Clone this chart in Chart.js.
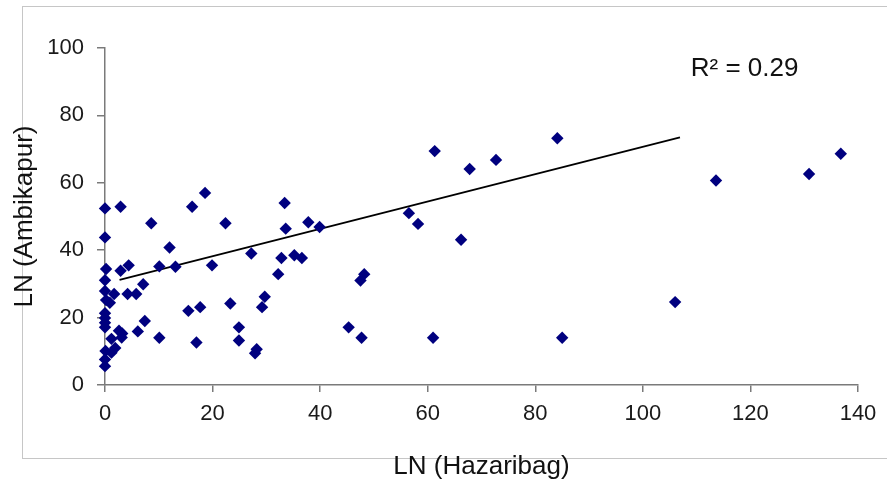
<!DOCTYPE html>
<html>
<head>
<meta charset="utf-8">
<script src="https://cdn.jsdelivr.net/npm/chart.js@4"></script>
<style>
  html, body { margin: 0; padding: 0; background: #fff; }
  #wrap { position: relative; width: 887px; height: 483px; }
  #frame { position: absolute; left: 22px; top: 6px; width: 900px; height: 451px; border: 1px solid #c6c6c6; }
  #chart { position: absolute; left: 0; top: 0; }
</style>
</head>
<body>
<div id="wrap">
  <div id="frame"></div>
  <canvas id="chart" width="887" height="483"></canvas>
</div>
<script>
// LN values (x = Hazaribag, y = Ambikapur)
const lnHazaribag = [
  0, 0, 0.2, 0, 0, 0.2, 0, 0, 0, 0, 0.1, 0, 0,
  0.9, 1.2, 1.9, 1.2, 1.7, 2.9, 2.9, 4.4, 2.6, 3.2, 3.1, 4.2, 5.8, 7.1, 7.4, 6.1,
  8.6, 10.1, 10.1, 12.0, 13.1, 15.5, 16.2, 17.0, 17.7, 18.6, 19.9, 22.4, 23.3,
  24.9, 24.9, 27.2, 27.9, 28.2, 29.2, 29.7, 32.2, 32.8, 33.4, 33.6, 35.2, 36.6,
  37.8, 39.9, 45.3, 47.5, 48.2, 47.7, 56.5, 58.2, 61.3, 61.0, 66.2, 67.8, 72.7,
  84.1, 85.0, 106.0, 113.6, 130.9, 136.8
];
const lnAmbikapur = [
  52.4, 43.8, 34.4, 31.1, 27.9, 25.2, 21.3, 19.9, 18.5, 17.1, 10.1, 7.6, 5.6,
  24.4, 13.7, 11.0, 9.6, 27.0, 52.9, 33.9, 35.5, 16.1, 15.3, 14.1, 27.0, 27.0, 29.9, 19.0, 15.9,
  48.0, 35.2, 14.0, 40.8, 35.1, 22.0, 52.9, 12.6, 23.1, 57.0, 35.5, 48.0, 24.2,
  17.1, 13.2, 39.0, 9.4, 10.6, 23.1, 26.2, 32.9, 37.7, 54.0, 46.4, 38.5, 37.7,
  48.3, 46.9, 17.1, 31.0, 32.9, 14.0, 51.0, 47.8, 69.4, 14.0, 43.1, 64.1, 66.8,
  73.2, 14.0, 24.6, 60.7, 62.6, 68.6
];

// linear trend line end points
const trendX = [2.7, 106.9];
const trendY = [31.2, 73.5];
const rSquared = '0.29';

const points = lnHazaribag.map((x, i) => ({ x: x, y: lnAmbikapur[i] }));
const trend = trendX.map((x, i) => ({ x: x, y: trendY[i] }));

const FONT = '"Liberation Sans", Arial, sans-serif';

// draws the R² note in data coordinates
const r2Label = {
  id: 'r2Label',
  afterDraw(chart) {
    const ctx = chart.ctx;
    const xs = chart.scales.x, ys = chart.scales.y;
    ctx.save();
    ctx.fillStyle = '#111';
    ctx.font = '26px ' + FONT;
    ctx.textBaseline = 'alphabetic';
    ctx.textAlign = 'left';
    ctx.fillText('R² = ' + rSquared, xs.getPixelForValue(108.9), ys.getPixelForValue(91.8));
    ctx.restore();
  }
};

new Chart(document.getElementById('chart'), {
  type: 'scatter',
  data: {
    datasets: [
      {
        label: 'LN',
        data: points,
        clip: false,
        pointStyle: 'rectRot',
        pointRadius: 6.2,
        pointBorderWidth: 0,
        backgroundColor: '#00007f',
        borderColor: '#00007f'
      },
      {
        label: 'Linear',
        type: 'line',
        data: trend,
        borderColor: '#000',
        borderWidth: 1.8,
        pointRadius: 0,
        fill: false
      }
    ]
  },
  options: {
    responsive: false,
    animation: false,
    layout: { padding: { top: 48, right: 29, left: 0, bottom: 0 } },
    plugins: {
      legend: { display: false },
      tooltip: { enabled: false }
    },
    scales: {
      x: {
        type: 'linear',
        min: 0, max: 140,
        afterFit: (s) => { s.height = 98; },
        border: { color: '#7a7a7a', width: 1.5 },
        grid: { drawOnChartArea: false, tickLength: 7, color: '#7a7a7a', lineWidth: 1.5 },
        ticks: { stepSize: 20, color: '#1a1a1a', padding: 9, font: { family: FONT, size: 22 } },
        title: {
          display: true, text: 'LN (Hazaribag)', color: '#111',
          font: { family: FONT, size: 26 }, padding: { top: 0, bottom: 1 }
        }
      },
      y: {
        type: 'linear',
        min: 0, max: 100,
        afterFit: (s) => { s.width = 105; },
        border: { color: '#7a7a7a', width: 1.5 },
        grid: { drawOnChartArea: false, tickLength: 8, color: '#7a7a7a', lineWidth: 1.5 },
        ticks: { stepSize: 20, color: '#1a1a1a', padding: 13, font: { family: FONT, size: 22 } },
        title: {
          display: true, text: 'LN (Ambikapur)', color: '#111',
          font: { family: FONT, size: 26 }, padding: { top: 9, bottom: 0 }
        }
      }
    }
  },
  plugins: [r2Label]
});
</script>
</body>
</html>
